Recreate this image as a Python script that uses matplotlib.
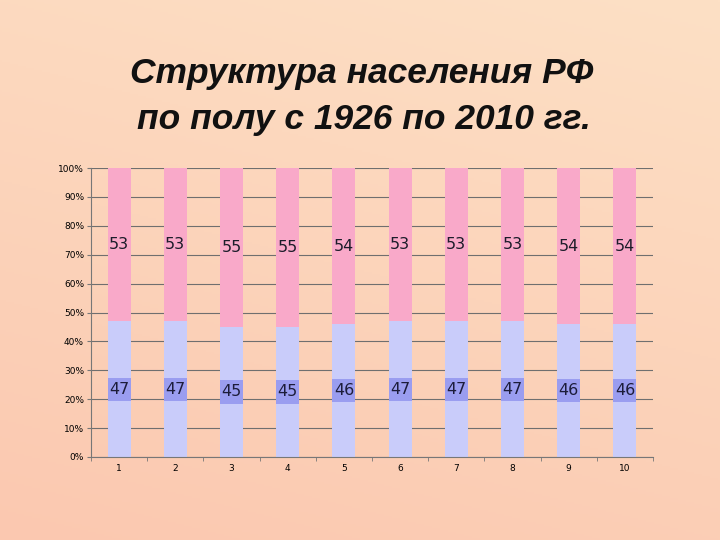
import numpy as np
import matplotlib
matplotlib.use("Agg")
from matplotlib import pyplot as plt

# data
categories = ['1', '2', '3', '4', '5', '6', '7', '8', '9', '10']
men = [47, 47, 45, 45, 46, 47, 47, 47, 46, 46]
women = [53, 53, 55, 55, 54, 53, 53, 53, 54, 54]
y_ticks = [0, 10, 20, 30, 40, 50, 60, 70, 80, 90, 100]
title_lines = ['Структура населения РФ', 'по полу с 1926 по 2010 гг.']

PINK = '#F9A9C9'
LAVENDER = '#C9CCFA'
BOX = '#9A9DF0'
BAR_W = 0.41

fig = plt.figure(figsize=(7.2, 5.4), dpi=100)

# background gradient
bg = fig.add_axes([0, 0, 1, 1], zorder=-10)
h, w = 270, 360
yy, xx = np.mgrid[0:1:h * 1j, 0:1:w * 1j]
t = np.clip(0.75 * yy + 0.25 * (1 - xx), 0, 1)
top = np.array([253, 224, 197]) / 255
bot = np.array([251, 200, 176]) / 255
img = top[None, None, :] * (1 - t[..., None]) + bot[None, None, :] * t[..., None]
bg.imshow(img, aspect='auto', extent=[0, 1, 0, 1], origin='upper')
bg.axis('off')

# title, two lines placed separately to get the wide spacing
for (xc, yc), line in zip([(362, 74), (364, 120)], title_lines):
    fig.text(xc / 720, 1 - yc / 540, line, ha='center', va='center',
             fontsize=25.5, fontweight='bold', fontstyle='italic',
             family='Liberation Sans', color='#111111')

ax = fig.add_axes([91 / 720, 1 - 457 / 540, 562 / 720, 289 / 540])
ax.patch.set_alpha(0)
x = np.arange(1, len(categories) + 1)
men_arr = np.array(men)
ax.bar(x, men, width=BAR_W, color=LAVENDER, zorder=2)
ax.bar(x, women, width=BAR_W, bottom=men, color=PINK, zorder=2)
# darker label backgrounds, as wide as the bars
ax.bar(x, 8, width=BAR_W, bottom=men_arr / 2 - 4, color=BOX, zorder=2.5)

for xi, m, f in zip(x, men, women):
    ax.text(xi, m / 2, str(m), ha='center', va='center', fontsize=11.5,
            color='#1c1c3a', zorder=3)
    ax.text(xi, m + f / 2, str(f), ha='center', va='center', fontsize=11.5,
            color='#1c1c2a', zorder=3)

ax.set_xlim(0.5, len(categories) + 0.5)
ax.set_ylim(0, 100)
ax.set_yticks(y_ticks)
ax.set_yticklabels([f'{v}%' for v in y_ticks], fontsize=6.5)
ax.set_xticks(x)
ax.set_xticklabels(categories, fontsize=6.5)
ax.set_xticks(np.arange(0.5, len(categories) + 1, 1), minor=True)
ax.tick_params(axis='x', which='major', length=0, pad=5)
ax.tick_params(axis='x', which='minor', length=3, color='#777777')
ax.tick_params(axis='y', length=3, color='#777777', pad=2)
ax.yaxis.grid(True, color='#6f6f6f', linewidth=0.8, zorder=0)
ax.set_axisbelow(True)
for side in ['top', 'right']:
    ax.spines[side].set_visible(False)
for side in ['left', 'bottom']:
    ax.spines[side].set_color('#777777')
    ax.spines[side].set_linewidth(0.8)

fig.savefig('out.png', dpi=100)
